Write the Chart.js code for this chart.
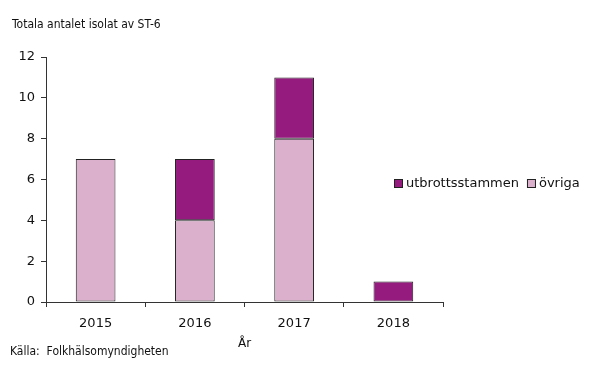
<!DOCTYPE html>
<html><head><meta charset="utf-8">
<script src="https://cdn.jsdelivr.net/npm/chart.js@4"></script>
<style>html,body{margin:0;padding:0;background:#fff}#wrap{width:590px;height:367px}</style>
</head><body><div id="wrap"><canvas id="c" width="590" height="367"></canvas></div>
<script>
const years = ['2015', '2016', '2017', '2018'];
const ovriga = [7, 4, 8, 0];
const utbrott = [0, 3, 3, 1];
const yTicks = [0, 2, 4, 6, 8, 10, 12];
const titleText = 'Totala antalet isolat av ST-6';
const sourceText = 'Källa:  Folkhälsomyndigheten';
const xTitle = 'År';

const FONT = "'DejaVu Sans', Verdana, sans-serif";
const CFONT = "'DejaVu Sans Condensed', 'DejaVu Sans', sans-serif";
const TXT = '#111';

const extras = {
  id: 'extras',
  afterDraw(chart) {
    const ctx = chart.ctx;
    ctx.save();
    ctx.fillStyle = TXT;
    ctx.font = '12px ' + CFONT;
    ctx.textBaseline = 'middle';
    ctx.textAlign = 'left';
    ctx.fillText(titleText, 12, 25);
    ctx.fillText(sourceText, 10, 352);
    // legend (reverse dataset order)
    ctx.font = '13px ' + FONT;
    let x = 394;
    const y = 184;
    const ds = chart.data.datasets.slice().reverse();
    ds.forEach(d => {
      ctx.fillStyle = d.backgroundColor;
      ctx.fillRect(x, y - 5, 9, 9);
      ctx.strokeStyle = '#222';
      ctx.lineWidth = 1;
      ctx.strokeRect(x + 0.5, y - 4.5, 8, 8);
      ctx.fillStyle = TXT;
      ctx.fillText(d.label, x + 12, y);
      x += 12 + ctx.measureText(d.label).width + 8;
    });
    ctx.restore();
  }
};

new Chart(document.getElementById('c'), {
  type: 'bar',
  data: {
    labels: years,
    datasets: [
      { label: 'övriga', data: ovriga, backgroundColor: '#dab0cc', borderColor: '#222',
        borderWidth: c => c.raw ? 1 : 0, borderSkipped: false },
      { label: 'utbrottsstammen', data: utbrott, backgroundColor: '#951b7f', borderColor: '#222',
        borderWidth: c => c.raw ? 1 : 0, borderSkipped: false }
    ]
  },
  options: {
    responsive: false,
    animation: false,
    devicePixelRatio: 1,
    layout: { padding: { top: 57, right: 147, left: 0, bottom: 12 } },
    plugins: { legend: { display: false }, title: { display: false }, tooltip: { enabled: false } },
    datasets: { bar: { categoryPercentage: 1, barPercentage: 0.4 } },
    scales: {
      x: {
        stacked: true,
        afterFit: s => { s.height = 53; },
        grid: { drawOnChartArea: false, drawTicks: true, tickLength: 5, color: '#333', offset: true },
        border: { display: true, color: '#333', width: 1 },
        ticks: { color: TXT, font: { family: FONT, size: 13 }, padding: 9 },
        title: { display: true, text: xTitle, color: TXT, font: { family: FONT, size: 12 }, padding: { top: 2 } }
      },
      y: {
        stacked: true,
        min: 0, max: 12,
        afterFit: s => { s.width = 46; },
        afterBuildTicks: s => { s.ticks = yTicks.map(v => ({ value: v })); },
        grid: { drawOnChartArea: false, drawTicks: true, tickLength: 5, color: '#333' },
        border: { display: true, color: '#333', width: 1 },
        ticks: { color: TXT, font: { family: FONT, size: 13 }, padding: 6 }
      }
    }
  },
  plugins: [extras]
});
</script></body></html>
